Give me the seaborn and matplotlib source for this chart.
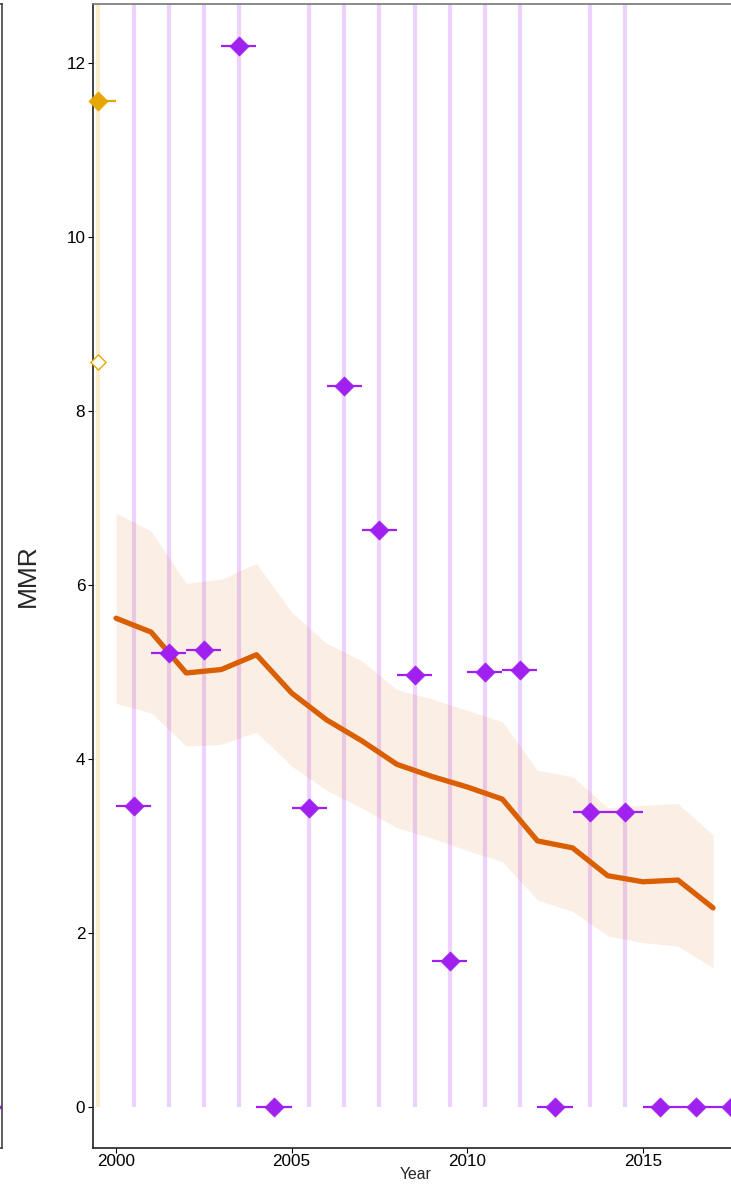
import numpy as np
import pandas as pd
import matplotlib
matplotlib.use("Agg")
import matplotlib.pyplot as plt
import seaborn as sns

# ---- data ----
est_years = list(range(2000, 2018))
est_mmr = [5.62, 5.46, 4.99, 5.03, 5.20, 4.76, 4.45, 4.21, 3.94, 3.80,
           3.68, 3.54, 3.06, 2.98, 2.66, 2.59, 2.61, 2.29]
est_lower = [4.64, 4.53, 4.15, 4.17, 4.31, 3.92, 3.64, 3.44, 3.21, 3.09,
             2.95, 2.82, 2.38, 2.25, 1.97, 1.89, 1.85, 1.60]
est_upper = [6.83, 6.62, 6.02, 6.07, 6.25, 5.69, 5.33, 5.13, 4.80, 4.69,
             4.56, 4.43, 3.87, 3.80, 3.44, 3.47, 3.49, 3.13]

obs_years = [2000.5, 2001.5, 2002.5, 2003.5, 2004.5, 2005.5, 2006.5, 2007.5,
             2008.5, 2009.5, 2010.5, 2011.5, 2012.5, 2013.5, 2014.5, 2015.5,
             2016.5, 2017.5]
obs_mmr = [3.46, 5.22, 5.26, 12.20, 0.0, 3.44, 8.29, 6.63, 4.97, 1.68,
           5.00, 5.03, 0.0, 3.39, 3.39, 0.0, 0.0, 0.0]

other_years = [1999.5]
other_mmr_filled = [11.57]
other_mmr_open = [8.56]

y_ticks = [0, 2, 4, 6, 8, 10, 12]
x_ticks = [2000, 2005, 2010, 2015]

# ---- style ----
sns.set_theme(style="white")
plt.rcParams['font.family'] = ['Liberation Sans', 'DejaVu Sans']

W, H = 731, 1188
fig = plt.figure(figsize=(W / 100, H / 100), dpi=100)

left_px, right_px, top_px, bot_px = 93, 738, 4, 1148
ax = fig.add_axes([left_px / W, (H - bot_px) / H,
                   (right_px - left_px) / W, (bot_px - top_px) / H])

purple = "#A020F0"
gold = "#E6A800"
orange = "#D95F02"

# vertical reference lines (only where observed MMR > 0)
vl_x = [x for x, v in zip(obs_years, obs_mmr) if v > 0]
ax.vlines(vl_x, 0, 20, color=purple, alpha=0.2, lw=3, zorder=1)
ax.vlines(other_years, 0, 20, color="#F5D98A", alpha=0.45, lw=3, zorder=1)

# uncertainty band
ax.fill_between(est_years, est_lower, est_upper, color=orange, alpha=0.1,
                lw=0, zorder=2)

# estimate line
est_df = pd.DataFrame({"Year": est_years, "MMR": est_mmr})
sns.lineplot(data=est_df, x="Year", y="MMR", ax=ax, color=orange, lw=3.8,
             zorder=3)

# observed: horizontal spans and diamonds
ax.hlines(obs_mmr, np.array(obs_years) - 0.5, np.array(obs_years) + 0.5,
          color=purple, lw=1.6, zorder=4)
obs_df = pd.DataFrame({"Year": obs_years, "MMR": obs_mmr})
sns.scatterplot(data=obs_df, x="Year", y="MMR", ax=ax, marker="D", s=95,
                color=purple, edgecolor=purple, linewidth=0.5, zorder=5)

ax.hlines(other_mmr_filled, np.array(other_years) - 0.5,
          np.array(other_years) + 0.5, color=gold, lw=1.6, zorder=4)
oth_df = pd.DataFrame({"Year": other_years, "MMR": other_mmr_filled})
sns.scatterplot(data=oth_df, x="Year", y="MMR", ax=ax, marker="D", s=95,
                color=gold, edgecolor=gold, linewidth=0.5, zorder=5,
                clip_on=False)
oth_open = pd.DataFrame({"Year": other_years, "MMR": other_mmr_open})
sns.scatterplot(data=oth_open, x="Year", y="MMR", ax=ax, marker="D", s=60,
                facecolor="white", edgecolor=gold, linewidth=1.0, zorder=5,
                clip_on=False)

# axes limits / ticks
ax.set_xlim(1999.345, 2017.71)
ax.set_ylim(-0.47, 12.68)
ax.set_xticks(x_ticks)
ax.set_yticks(y_ticks)
ax.set_xticklabels([str(t) for t in x_ticks])
ax.set_yticklabels([str(t) for t in y_ticks])
ax.tick_params(axis="both", labelsize=12.3, colors="black", length=3.5,
               width=0.8, direction="out", bottom=True, left=True)
ax.tick_params(axis="x", pad=0.5)
ax.tick_params(axis="y", pad=2)
ax.set_xlabel("Year", fontsize=11.3, labelpad=-1)
ax.set_ylabel("MMR", fontsize=19, labelpad=19)

for s in ["left", "bottom"]:
    ax.spines[s].set_color("#222222")
    ax.spines[s].set_linewidth(1.2)
ax.spines["top"].set_color("#777777")
ax.spines["top"].set_linewidth(1.2)
ax.spines["right"].set_visible(False)

# neighbouring panel edge at far left
ax2 = fig.add_axes([-0.3, (H - bot_px) / H, 0.3 + 1.5 / W, (bot_px - top_px) / H])
ax2.set_xlim(0, 1)
ax2.set_ylim(-0.47, 12.68)
ax2.hlines([0], 0.95, 1.0, color=purple, lw=2.5)
ax2.set_xticks([])
ax2.set_yticks([])
for s in ax2.spines.values():
    s.set_color("#444444")
    s.set_linewidth(1.2)

fig.savefig("out.png", dpi=100)
